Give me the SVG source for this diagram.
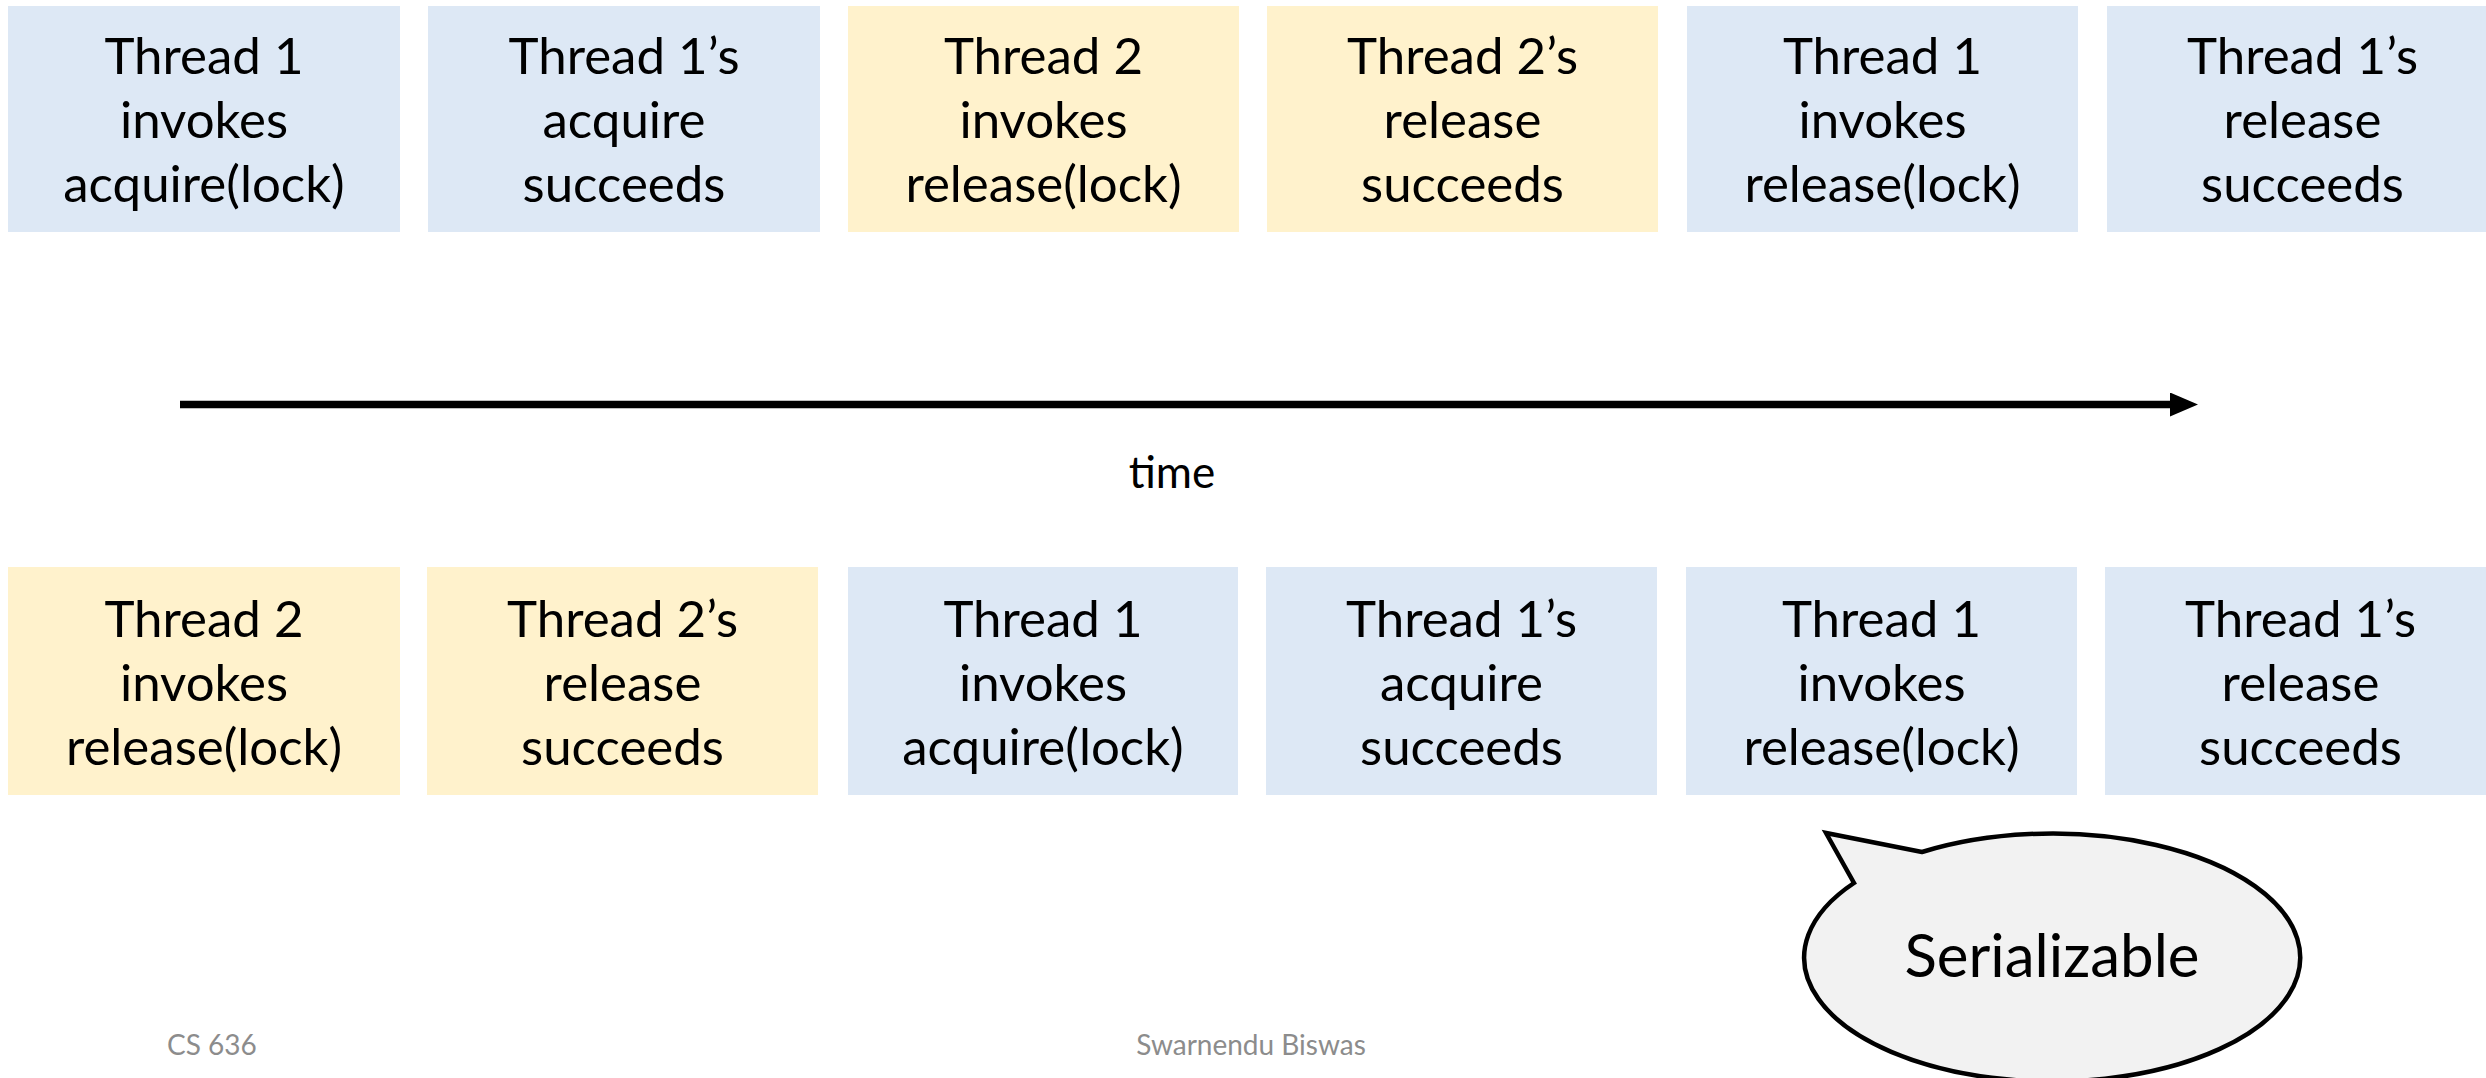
<svg xmlns="http://www.w3.org/2000/svg" width="2486" height="1078" viewBox="0 0 2486 1078">
<style>
.b{fill:#DDE8F5}
.y{fill:#FFF2CC}
.t{font-family:Lato,"Open Sans",sans-serif;font-size:51px;fill:#000;text-anchor:middle}
.f{font-family:Lato,"Open Sans",sans-serif;font-size:28px;fill:#8C8C8C}
</style>
<defs>
<marker id="ah" markerWidth="28" markerHeight="24" refX="0" refY="12" orient="auto" markerUnits="userSpaceOnUse" viewBox="0 0 28 24">
<path d="M0,0 L28,12 L0,24 Z" fill="#000"/>
</marker>
</defs>
<rect width="2486" height="1078" fill="#fff"/>
<g id="top1"><rect class="b" x="8" y="6" width="392" height="226"/><text class="t" x="204" y="74">Thread 1<tspan x="204" dy="64">invokes</tspan><tspan x="204" dy="64">acquire(lock)</tspan></text></g>
<g id="top2"><rect class="b" x="428" y="6" width="392" height="226"/><text class="t" x="624" y="74">Thread 1’s<tspan x="624" dy="64">acquire</tspan><tspan x="624" dy="64">succeeds</tspan></text></g>
<g id="top3"><rect class="y" x="848" y="6" width="391" height="226"/><text class="t" x="1043.5" y="74">Thread 2<tspan x="1043.5" dy="64">invokes</tspan><tspan x="1043.5" dy="64">release(lock)</tspan></text></g>
<g id="top4"><rect class="y" x="1267" y="6" width="391" height="226"/><text class="t" x="1462.5" y="74">Thread 2’s<tspan x="1462.5" dy="64">release</tspan><tspan x="1462.5" dy="64">succeeds</tspan></text></g>
<g id="top5"><rect class="b" x="1687" y="6" width="391" height="226"/><text class="t" x="1882.5" y="74">Thread 1<tspan x="1882.5" dy="64">invokes</tspan><tspan x="1882.5" dy="64">release(lock)</tspan></text></g>
<g id="top6"><rect class="b" x="2107" y="6" width="391" height="226"/><text class="t" x="2302.5" y="74">Thread 1’s<tspan x="2302.5" dy="64">release</tspan><tspan x="2302.5" dy="64">succeeds</tspan></text></g>

<g id="bot1"><rect class="y" x="8" y="567" width="392" height="228"/><text class="t" x="204" y="637">Thread 2<tspan x="204" dy="64">invokes</tspan><tspan x="204" dy="64">release(lock)</tspan></text></g>
<g id="bot2"><rect class="y" x="427" y="567" width="391" height="228"/><text class="t" x="622.5" y="637">Thread 2’s<tspan x="622.5" dy="64">release</tspan><tspan x="622.5" dy="64">succeeds</tspan></text></g>
<g id="bot3"><rect class="b" x="848" y="567" width="390" height="228"/><text class="t" x="1043" y="637">Thread 1<tspan x="1043" dy="64">invokes</tspan><tspan x="1043" dy="64">acquire(lock)</tspan></text></g>
<g id="bot4"><rect class="b" x="1266" y="567" width="391" height="228"/><text class="t" x="1461.5" y="637">Thread 1’s<tspan x="1461.5" dy="64">acquire</tspan><tspan x="1461.5" dy="64">succeeds</tspan></text></g>
<g id="bot5"><rect class="b" x="1686" y="567" width="391" height="228"/><text class="t" x="1881.5" y="637">Thread 1<tspan x="1881.5" dy="64">invokes</tspan><tspan x="1881.5" dy="64">release(lock)</tspan></text></g>
<g id="bot6"><rect class="b" x="2105" y="567" width="391" height="228"/><text class="t" x="2300.5" y="637">Thread 1’s<tspan x="2300.5" dy="64">release</tspan><tspan x="2300.5" dy="64">succeeds</tspan></text></g>

<g id="connectors">
<line x1="180" y1="404.5" x2="2170" y2="404.5" stroke="#000" stroke-width="7.5" marker-end="url(#ah)"/>
</g>
<text id="time" x="1172" y="488" font-family="Lato,'Open Sans',sans-serif" font-size="44" text-anchor="middle">time</text>

<g id="callout">
<path d="M1922,852 L1826,833 L1854,883 A248,124 0 1 0 1922,852 Z" fill="#F2F2F2" stroke="#000" stroke-width="4.5" stroke-linejoin="miter"/>
<text x="2052" y="977" font-family="Lato,'Open Sans',sans-serif" font-size="60" text-anchor="middle">Serializable</text>
</g>
<text class="f" x="167" y="1055">CS 636</text>
<text class="f" x="1251" y="1055" text-anchor="middle">Swarnendu Biswas</text>
</svg>
